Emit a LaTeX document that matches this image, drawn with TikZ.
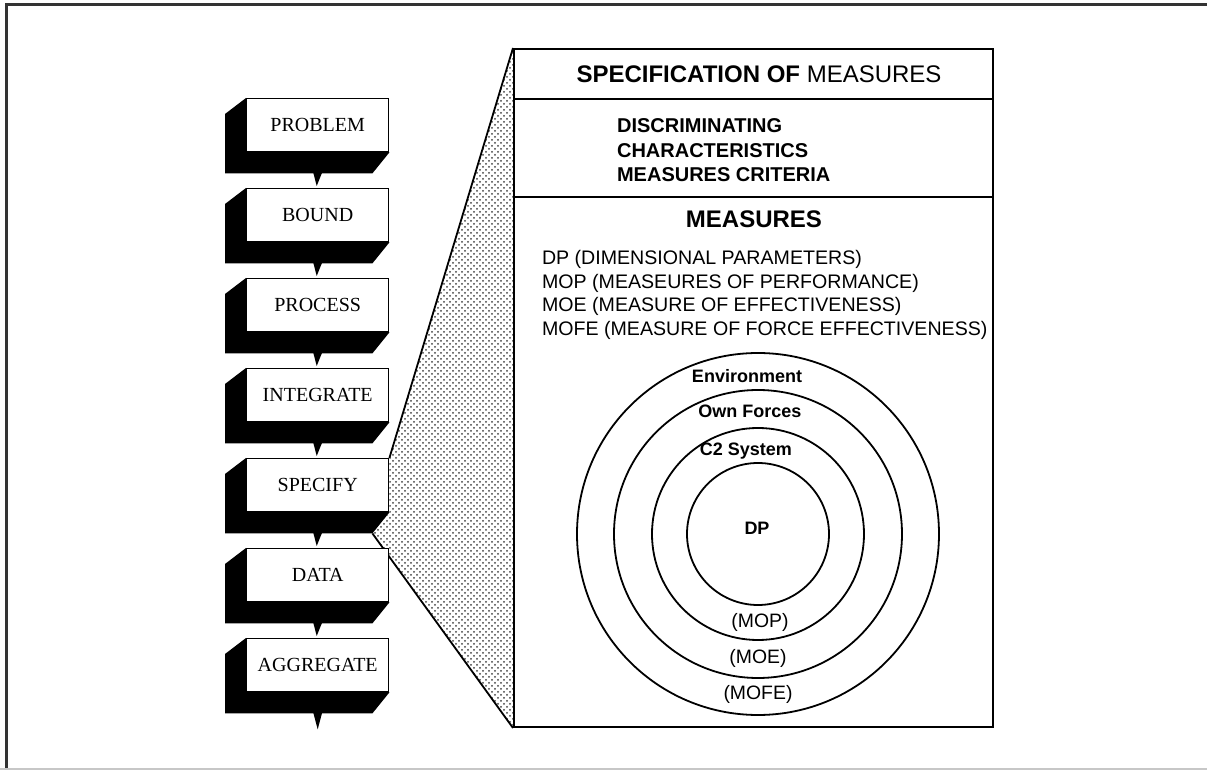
\documentclass[tikz,border=0pt]{standalone}
\usepackage{fontspec}
\setmainfont{Liberation Serif}
\newfontfamily\arial{Liberation Sans}
\usetikzlibrary{calc,patterns,backgrounds}
\tikzset{
  stepbox/.style={draw, line width=0.7pt, fill=white, anchor=north west, inner sep=0pt,
    minimum width=71pt, minimum height=26.5pt,
    font=\fontsize{10}{12}\selectfont},
  ring/.style={draw, circle, line width=0.9pt, inner sep=0pt},
  boldlbl/.style={anchor=base, font=\arial\bfseries\fontsize{9}{11}\selectfont},
  reglbl/.style={anchor=base, font=\arial\fontsize{9.7}{11}\selectfont},
  listlbl/.style={anchor=base west, font=\arial\fontsize{9.8}{11}\selectfont},
  critlbl/.style={anchor=base west, font=\arial\bfseries\fontsize{10}{12}\selectfont},
  shade/.style={fill=black},
  tri/.style={fill=black},
}
\begin{document}
\begin{tikzpicture}[x={(0.5pt,0)}, y={(0,-0.5pt)}]
\useasboundingbox (0,0) rectangle (1207,770);
% outer frame
\draw[line width=1.5pt, black!80] (6,770) -- (6,5) -- (1207,5);
\draw[line width=1pt, black!22] (0,769) -- (1207,769);

% step boxes
\node[stepbox] (problem) at (246,98) {PROBLEM};
\node[stepbox] (bound) at (246,188) {BOUND};
\node[stepbox] (process) at (246,278) {PROCESS};
\node[stepbox] (integrate) at (246,368) {INTEGRATE};
\node[stepbox] (specify) at (246,458) {SPECIFY};
\node[stepbox] (data) at (246,548) {DATA};
\node[stepbox] (aggregate) at (246,638) {AGGREGATE};
\coordinate (aggend) at ($(aggregate.south)+(0,37)$);

% panel
\node[draw, line width=1pt, anchor=north west, inner sep=0pt,
      minimum width=239.5pt, minimum height=339pt] (panel) at (513,48) {};
\draw[line width=0.8pt] ($(panel.north west)+(0,51)$) -- ($(panel.north east)+(0,51)$);
\draw[line width=0.8pt] ($(panel.north west)+(0,149)$) -- ($(panel.north east)+(0,149)$);

\begin{scope}[on background layer]
  % shaded zoom wedge
  \fill[pattern=crosshatch dots, pattern color=black!75]
    (panel.north west) -- (specify.north east) -- (specify.south east)
    -- ($(specify.south east)+(-17,21)$) -- (panel.south west) -- cycle;
  \draw[line width=0.9pt] (panel.north west) -- (specify.north east);
  \draw[line width=0.9pt] ($(specify.south east)+(-17,21)$) -- (panel.south west);
  % shadows
  \foreach \b in {problem,bound,process,integrate,specify,data,aggregate}{
    \fill[shade] (\b.north west) -- ($(\b.north west)+(-21,16)$)
      -- ($(\b.south west)+(-21,21)$) -- ($(\b.south east)+(-17,21)$)
      -- (\b.south east) -- cycle;
  }
  % down arrows
  \foreach \a/\b in {problem/bound,bound/process,process/integrate,integrate/specify,specify/data,data/aggregate}{
    \fill[tri] ($(\a.south)+(-4.5,20)$) -- ($(\a.south)+(4.5,20)$) -- ($(\b.north)+(-1,-2)$) -- cycle;
  }
  \fill[tri] ($(aggregate.south)+(-4.5,20)$) -- ($(aggregate.south)+(4.5,20)$) -- (aggend) -- cycle;
\end{scope}

% panel texts
\node[anchor=base, font=\arial\fontsize{12}{14}\selectfont] (title) at (759,83)
  {\bfseries SPECIFICATION OF \mdseries MEASURES};
\node[critlbl] (disc) at (610,133) {DISCRIMINATING};
\node[critlbl] (char) at (610,158) {CHARACTERISTICS};
\node[critlbl] (crit) at (610,182) {MEASURES CRITERIA};
\node[anchor=base, font=\arial\bfseries\fontsize{12}{14}\selectfont] (meas) at (754,228) {MEASURES};
\node[listlbl] (ldp) at (535,265) {DP (DIMENSIONAL PARAMETERS)};
\node[listlbl] (lmop) at (535,288.5) {MOP (MEASEURES OF PERFORMANCE)};
\node[listlbl] (lmoe) at (535,312) {MOE (MEASURE OF EFFECTIVENESS)};
\node[listlbl] (lmofe) at (535,335.5) {MOFE (MEASURE OF FORCE EFFECTIVENESS)};

% rings
\node[ring, minimum size=181pt] (env) at (758,534) {};
\node[ring, minimum size=144pt] (own) at (758,534) {};
\node[ring, minimum size=106pt] (c2) at (758,534) {};
\node[ring, minimum size=71pt] (dp) at (758,534) {};
\node[boldlbl] (tenv) at (747,383) {Environment};
\node[boldlbl] (town) at (750,418) {Own Forces};
\node[boldlbl] (tc2) at (746,456) {C2 System};
\node[boldlbl, anchor=center] (tdp) at (757,528) {DP};
\node[reglbl] (tmop) at (760,628) {(MOP)};
\node[reglbl] (tmoe) at (758,664) {(MOE)};
\node[reglbl] (tmofe) at (758,700) {(MOFE)};
\end{tikzpicture}
\end{document}
